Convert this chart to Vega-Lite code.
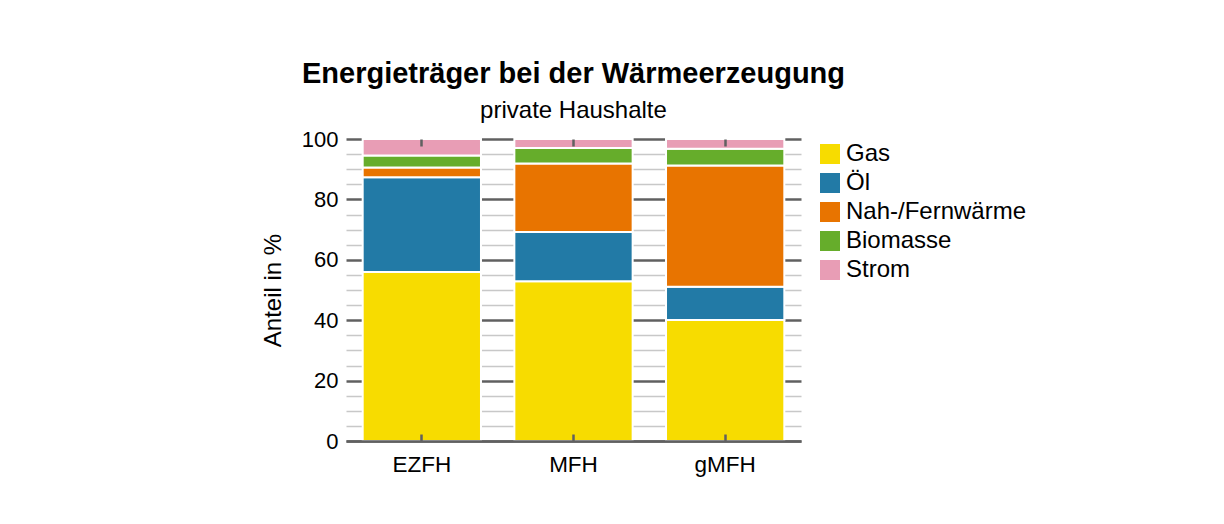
{
  "$schema": "https://vega.github.io/schema/vega-lite/v6.json",
  "autosize": "none",
  "width": 455,
  "height": 302,
  "padding": {"left": 346, "top": 139, "right": 423, "bottom": 83},
  "background": "white",
  "title": {
    "text": "Energieträger bei der Wärmeerzeugung",
    "subtitle": "private Haushalte",
    "anchor": "middle",
    "font": "Liberation Sans",
    "fontSize": 29,
    "fontWeight": "bold",
    "color": "black",
    "subtitleFont": "Liberation Sans",
    "subtitleFontSize": 24,
    "subtitleColor": "black",
    "subtitlePadding": 10,
    "offset": 5
  },
  "data": {
    "values": [
      {"Typ": "EZFH", "Energietraeger": "Gas", "Ordnung": 1, "Anteil": 56.0},
      {"Typ": "EZFH", "Energietraeger": "Öl", "Ordnung": 2, "Anteil": 31.3},
      {"Typ": "EZFH", "Energietraeger": "Nah-/Fernwärme", "Ordnung": 3, "Anteil": 3.3},
      {"Typ": "EZFH", "Energietraeger": "Biomasse", "Ordnung": 4, "Anteil": 3.9},
      {"Typ": "EZFH", "Energietraeger": "Strom", "Ordnung": 5, "Anteil": 5.5},
      {"Typ": "MFH", "Energietraeger": "Gas", "Ordnung": 1, "Anteil": 52.9},
      {"Typ": "MFH", "Energietraeger": "Öl", "Ordnung": 2, "Anteil": 16.3},
      {"Typ": "MFH", "Energietraeger": "Nah-/Fernwärme", "Ordnung": 3, "Anteil": 22.7},
      {"Typ": "MFH", "Energietraeger": "Biomasse", "Ordnung": 4, "Anteil": 5.1},
      {"Typ": "MFH", "Energietraeger": "Strom", "Ordnung": 5, "Anteil": 3.0},
      {"Typ": "gMFH", "Energietraeger": "Gas", "Ordnung": 1, "Anteil": 40.1},
      {"Typ": "gMFH", "Energietraeger": "Öl", "Ordnung": 2, "Anteil": 11.0},
      {"Typ": "gMFH", "Energietraeger": "Nah-/Fernwärme", "Ordnung": 3, "Anteil": 40.1},
      {"Typ": "gMFH", "Energietraeger": "Biomasse", "Ordnung": 4, "Anteil": 5.6},
      {"Typ": "gMFH", "Energietraeger": "Strom", "Ordnung": 5, "Anteil": 3.2}
    ]
  },
  "layer": [
    {
      "mark": {"type": "bar", "opacity": 0},
      "encoding": {
        "x": {
          "field": "Typ", "type": "nominal", "sort": ["EZFH", "MFH", "gMFH"],
          "scale": {"paddingInner": 0.22, "paddingOuter": 0.11},
          "axis": {"orient": "top", "title": null, "labels": false, "domain": false, "zindex": 1,
                   "ticks": true, "tickSize": -7, "tickColor": "#606060", "tickWidth": 2.5, "grid": false}
        },
        "y": {
          "field": "Anteil", "type": "quantitative", "aggregate": "sum",
          "scale": {"domain": [0, 100], "nice": false},
          "axis": {"orient": "left", "title": null, "labels": false, "ticks": false, "domain": false,
                   "values": [5, 10, 15, 25, 30, 35, 45, 50, 55, 65, 70, 75, 85, 90, 95],
                   "grid": true, "gridColor": "#c8c8c8", "gridWidth": 1.5}
        }
      }
    },
    {
      "mark": {"type": "bar", "stroke": "white", "strokeWidth": 2},
      "encoding": {
        "x": {
          "field": "Typ", "type": "nominal", "sort": ["EZFH", "MFH", "gMFH"],
          "axis": {"orient": "bottom", "title": null, "labelAngle": 0, "labelFontSize": 22.5,
                   "labelFont": "Liberation Sans", "labelColor": "black", "labelPadding": 19, "zindex": 1,
                   "domain": true, "domainColor": "#606060", "domainWidth": 2.5,
                   "ticks": true, "tickSize": -7, "tickColor": "#606060", "tickWidth": 2.5, "grid": false}
        },
        "y": {
          "field": "Anteil", "type": "quantitative", "stack": "zero",
          "scale": {"domain": [0, 100], "nice": false},
          "axis": {"orient": "left", "title": "Anteil in %", "titleFont": "Liberation Sans",
                   "titleFontSize": 24, "titleFontWeight": "normal", "titleColor": "black", "titlePadding": 16,
                   "labelFont": "Liberation Sans", "labelFontSize": 22, "labelColor": "black", "labelPadding": 8,
                   "values": [0, 20, 40, 60, 80, 100], "ticks": false, "domain": false,
                   "grid": true, "gridColor": "#606060", "gridWidth": 2.5}
        },
        "color": {
          "field": "Energietraeger", "type": "nominal",
          "sort": ["Gas", "Öl", "Nah-/Fernwärme", "Biomasse", "Strom"],
          "scale": {"domain": ["Gas", "Öl", "Nah-/Fernwärme", "Biomasse", "Strom"],
                    "range": ["#F7DC00", "#227AA6", "#E87400", "#66AD2B", "#E89DB5"]},
          "legend": {"title": null, "orient": "right", "offset": 14, "padding": 3,
                     "symbolType": "square", "symbolSize": 400, "symbolStrokeWidth": 0,
                     "symbolOpacity": 1,
                     "labelFont": "Liberation Sans", "labelFontSize": 24, "labelColor": "black",
                     "labelOffset": 4, "rowPadding": 5, "labelLimit": 300}
        },
        "order": {"field": "Ordnung", "type": "quantitative"}
      }
    }
  ],
  "resolve": {"axis": {"x": "independent", "y": "independent"}},
  "config": {"view": {"stroke": null}}
}
